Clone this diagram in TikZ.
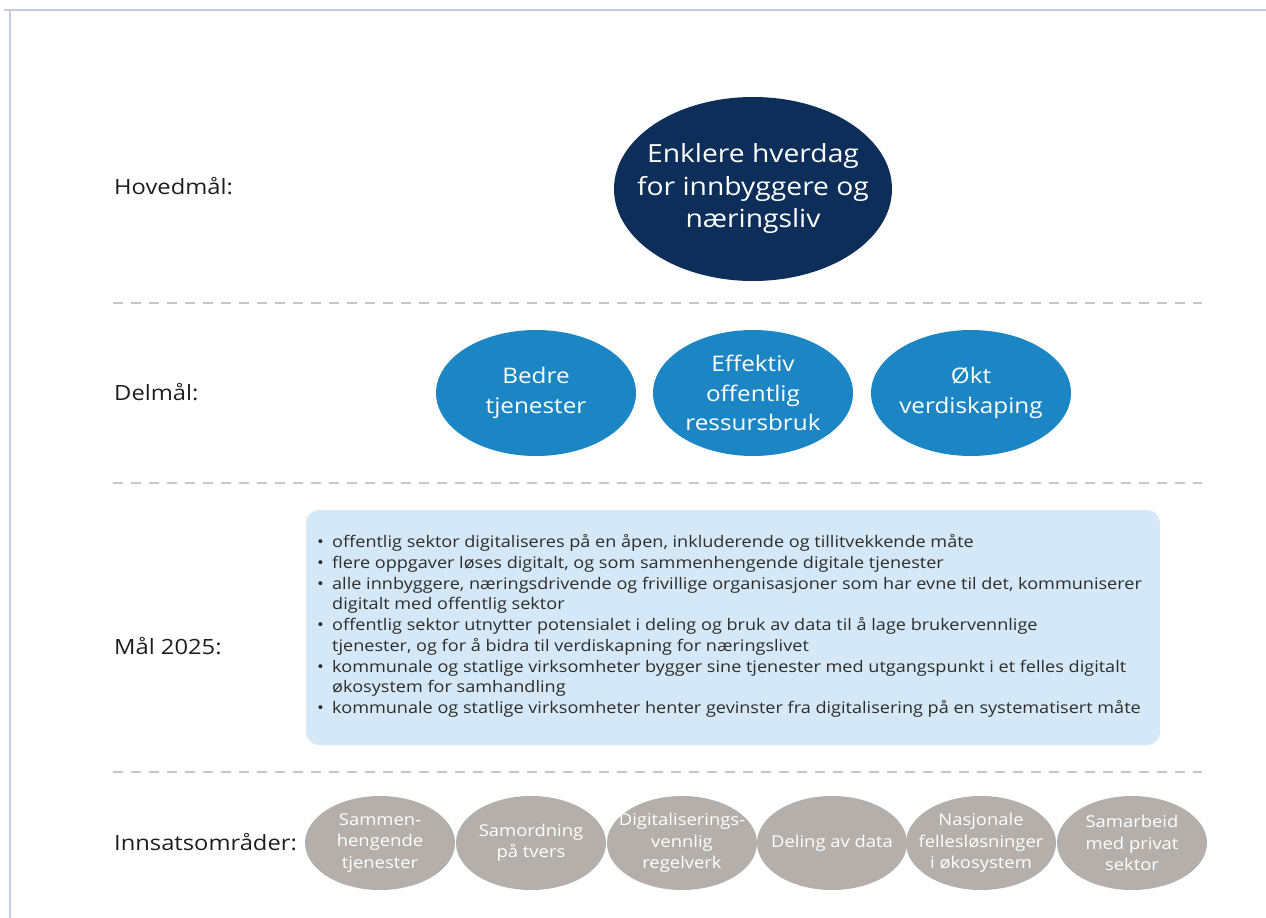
\documentclass[tikz,border=0pt]{standalone}
\usepackage{fontspec}
\setmainfont{Open Sans}[FakeStretch=1.13]
\usetikzlibrary{shapes.geometric}
\definecolor{navy}{RGB}{12,46,88}
\definecolor{midblue}{RGB}{28,134,197}
\definecolor{boxblue}{RGB}{212,232,247}
\definecolor{stone}{RGB}{180,175,171}
\definecolor{labelc}{RGB}{30,30,30}
\definecolor{dashc}{RGB}{200,200,200}
\definecolor{framec}{RGB}{197,206,224}
\definecolor{listc}{RGB}{45,45,45}
\tikzset{
  lvl/.style={anchor=west, text=labelc, font=\fontsize{21}{25}\selectfont, inner sep=0},
  mainell/.style={ellipse, fill=navy, minimum width=278pt, minimum height=184pt, inner sep=0},
  maintxt/.style={text=white, inner sep=0, align=center, font=\fontsize{25}{32.5}\selectfont},
  subell/.style={ellipse, fill=midblue, minimum width=200pt, minimum height=126pt, inner sep=0},
  subtxt/.style={text=white, inner sep=0, align=center, font=\fontsize{21.5}{29.5}\selectfont},
  areaell/.style={ellipse, fill=stone, minimum width=150pt, minimum height=94pt, inner sep=0},
  areatxt/.style={text=white, inner sep=0, align=center, font=\fontsize{16.3}{21.5}\selectfont},
  sep/.style={draw=dashc, line width=2.6pt, dash pattern=on 10pt off 8pt},
}
\begin{document}
\begin{tikzpicture}[x=1pt,y=-1pt]
\useasboundingbox (0,0) rectangle (1266,918);
\fill[white] (0,0) rectangle (1266,918);
% frame
\draw[framec, line width=2.5pt] (4,10) -- (1266,10);
\draw[framec, line width=2.5pt] (10,10) -- (10,918);
% separators
\coordinate (s1a) at (113,303); \coordinate (s1b) at (1202,303);
\coordinate (s2a) at (113,483); \coordinate (s2b) at (1202,483);
\coordinate (s3a) at (113,772); \coordinate (s3b) at (1202,772);
\draw[sep] (s1a) -- (s1b);
\draw[sep] (s2a) -- (s2b);
\draw[sep] (s3a) -- (s3b);
% labels
\node[lvl] (lhoved) at (114,186) {Hovedmål:};
\node[lvl] (ldel) at (114,392) {Delmål:};
\node[lvl] (lmal) at (114,646) {Mål 2025:};
\node[lvl] (linns) at (114,842) {Innsatsområder:};
% main goal
\node[mainell] (main) at (753,189) {};
\node[maintxt] (maint) at (main.center) {Enklere hverdag\\for innbyggere og\\næringsliv};
% sub goals
\node[subell] (d1) at (536,393) {};
\node[subtxt] (d1t) at (d1.center) {Bedre\\tjenester};
\node[subell] (d2) at (753,393) {};
\node[subtxt] (d2t) at (d2.center) {Effektiv\\offentlig\\ressursbruk};
\node[subell] (d3) at (971,393) {};
\node[subtxt] (d3t) at (d3.center) {Økt\\verdiskaping};
% goals box
\node[draw=none, fill=boxblue, rounded corners=13pt, minimum width=854pt, minimum height=235pt, inner sep=0] (goals) at (733,627.5) {};
\node[anchor=west, inner sep=0, align=left, text=listc, font=\fontsize{16}{20.75}\selectfont] (goaltext) at (317,626) {%
\makebox[15pt][l]{•}offentlig sektor digitaliseres på en åpen, inkluderende og tillitvekkende måte\\
\makebox[15pt][l]{•}flere oppgaver løses digitalt, og som sammenhengende digitale tjenester\\
\makebox[15pt][l]{•}alle innbyggere, næringsdrivende og frivillige organisasjoner som har evne til det, kommuniserer\\
\hspace*{15pt}digitalt med offentlig sektor\\
\makebox[15pt][l]{•}offentlig sektor utnytter potensialet i deling og bruk av data til å lage brukervennlige\\
\hspace*{15pt}tjenester, og for å bidra til verdiskapning for næringslivet\\
\makebox[15pt][l]{•}kommunale og statlige virksomheter bygger sine tjenester med utgangspunkt i et felles digitalt\\
\hspace*{15pt}økosystem for samhandling\\
\makebox[15pt][l]{•}kommunale og statlige virksomheter henter gevinster fra digitalisering på en systematisert måte};
% areas
\node[areaell] (a1) at (380,843) {};
\node[areatxt] (a1t) at (a1.center) {Sammen-\\hengende\\tjenester};
\node[areaell] (a2) at (531,843) {};
\node[areatxt] (a2t) at (a2.center) {Samordning\\på tvers};
\node[areaell] (a3) at (682,843) {};
\node[areatxt] (a3t) at (a3.center) {Digitaliserings-\\vennlig\\regelverk};
\node[areaell] (a4) at (832,843) {};
\node[areatxt] (a4t) at (a4.center) {Deling av data};
\node[areaell] (a5) at (981,843) {};
\node[areatxt] (a5t) at (a5.center) {Nasjonale\\fellesløsninger\\i økosystem};
\node[areaell] (a6) at (1132,843) {};
\node[areatxt] (a6t) at (a6.center) {Samarbeid\\med privat\\sektor};
\end{tikzpicture}
\end{document}
